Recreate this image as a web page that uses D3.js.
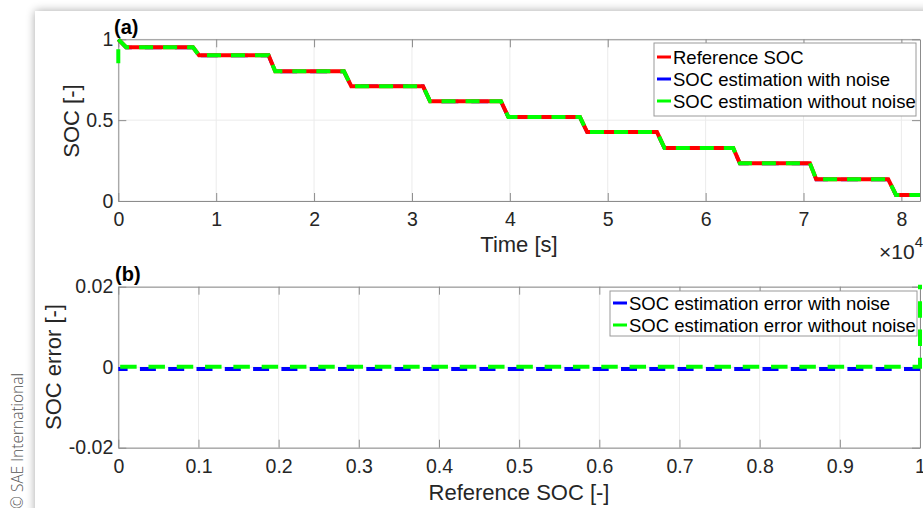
<!DOCTYPE html>
<html>
<head>
<meta charset="utf-8">
<script src="https://cdn.jsdelivr.net/npm/d3@7"></script>
<style>
  html, body { margin: 0; padding: 0; background: #ffffff; }
  svg { display: block; font-family: "Liberation Sans", Arial, Helvetica, sans-serif; }
</style>
</head>
<body>
<svg id="chart" width="923" height="508"></svg>
<script>
// ---------------- DATA ----------------
// Panel (a): time axis in seconds
const timeTicks = [0, 10000, 20000, 30000, 40000, 50000, 60000, 70000, 80000];
const timeTickLabels = ["0", "1", "2", "3", "4", "5", "6", "7", "8"];
const socTicks = [0, 0.5, 1];
const socTickLabels = ["0", "0.5", "1"];

const refTime = [0, 800, 7630, 8250, 15350, 16030, 23050, 23800, 31130, 31850, 39090, 39850,
                 47160, 47900, 55030, 55800, 62820, 63500, 70650, 71300, 78650, 79450, 81900];
const refSOC  = [1, 0.951, 0.951, 0.901, 0.901, 0.802, 0.802, 0.710, 0.710, 0.617, 0.617, 0.519,
                 0.519, 0.426, 0.426, 0.327, 0.327, 0.233, 0.233, 0.134, 0.134, 0.037, 0.037];

const noiseTime = [0, 800, 7630, 8250, 15350, 16030, 23050, 23800, 31130, 31850, 39090, 39850,
                   47160, 47900, 55030, 55800, 62820, 63500, 70650, 71300, 78650, 79450, 81900];
const noiseSOC  = [1, 0.950, 0.950, 0.900, 0.900, 0.801, 0.801, 0.709, 0.709, 0.616, 0.616, 0.518,
                   0.518, 0.425, 0.425, 0.326, 0.326, 0.232, 0.232, 0.133, 0.133, 0.036, 0.036];

const cleanTime = [0, 0, 800, 7630, 8250, 15350, 16030, 23050, 23800, 31130, 31850, 39090, 39850,
                   47160, 47900, 55030, 55800, 62820, 63500, 70650, 71300, 78650, 79450, 81900];
const cleanSOC  = [0.852, 1, 0.951, 0.951, 0.901, 0.901, 0.802, 0.802, 0.710, 0.710, 0.617, 0.617, 0.519,
                   0.519, 0.426, 0.426, 0.327, 0.327, 0.233, 0.233, 0.134, 0.134, 0.037, 0.037];

// Panel (b): error vs reference SOC
const refSocTicks = [0, 0.1, 0.2, 0.3, 0.4, 0.5, 0.6, 0.7, 0.8, 0.9, 1];
const refSocTickLabels = ["0", "0.1", "0.2", "0.3", "0.4", "0.5", "0.6", "0.7", "0.8", "0.9", "1"];
const errTicks = [-0.02, 0, 0.02];
const errTickLabels = ["-0.02", "0", "0.02"];

const errNoiseSOC = [1, 0];
const errNoise    = [-0.00045, -0.00045];
const errCleanSOC = [1, 1, 0];
const errClean    = [0.15, 0.0001, 0.0001];

const legendA = ["Reference SOC", "SOC estimation with noise", "SOC estimation without noise"];
const legendB = ["SOC estimation error with noise", "SOC estimation error without noise"];

// ---------------- DRAWING ----------------
const RED = "#ff0000", BLUE = "#0000ff", GREEN = "#00ff00";
const AXIS = "#8c8c8c", TEXT = "#262626", GRID = "#ebebeb";
const TICKFS = 19.5, LABELFS = 22, LEGFS = 18.5;

const svg = d3.select("#chart");
const defs = svg.append("defs");
const f = defs.append("filter").attr("id", "shadow").attr("x", -0.1).attr("y", -0.1).attr("width", 1.3).attr("height", 1.3);
f.append("feGaussianBlur").attr("in", "SourceAlpha").attr("stdDeviation", 5);
f.append("feComponentTransfer").append("feFuncA").attr("type", "linear").attr("slope", 0.35);
const fm = f.append("feMerge");
fm.append("feMergeNode");
fm.append("feMergeNode").attr("in", "SourceGraphic");

svg.append("rect").attr("x", 35).attr("y", 11).attr("width", 930).attr("height", 520)
  .attr("fill", "#fff").attr("filter", "url(#shadow)");

// copyright
svg.append("text")
  .attr("transform", "translate(23,509) rotate(-90)")
  .attr("font-size", 15.5).attr("fill", "#555").attr("font-weight", 300)
  .attr("font-family", "'Open Sans', 'Liberation Sans', sans-serif")
  .text("© SAE International");

function panel(opts) {
  const { x, y, xTicks, xLabels, yTicks, yLabels, id } = opts;
  const [x0, x1] = x.range();
  const [y0, y1] = y.range(); // y0 bottom, y1 top
  const g = svg.append("g");
  const clip = defs.append("clipPath").attr("id", id);
  clip.append("rect").attr("x", x0 - 3).attr("y", y1 - 2).attr("width", x1 - x0 + 6).attr("height", y0 - y1 + 4);

  // grid
  g.append("g").selectAll("line").data(xTicks).join("line")
    .attr("x1", d => x(d)).attr("x2", d => x(d)).attr("y1", y0).attr("y2", y1)
    .attr("stroke", GRID).attr("stroke-width", 1);
  g.append("g").selectAll("line").data(yTicks).join("line")
    .attr("x1", x0).attr("x2", x1).attr("y1", d => y(d)).attr("y2", d => y(d))
    .attr("stroke", GRID).attr("stroke-width", 1);

  const styleAxis = sel => {
    sel.select(".domain").attr("stroke", AXIS);
    sel.selectAll(".tick line").attr("stroke", AXIS);
    sel.selectAll("text").attr("fill", TEXT).attr("font-size", TICKFS).attr("font-family", "Liberation Sans, Arial, sans-serif");
  };
  const xl = d3.scaleOrdinal().domain(xTicks).range(xLabels);
  const yl = d3.scaleOrdinal().domain(yTicks).range(yLabels);

  g.append("g").attr("transform", `translate(0,${y0})`)
    .call(d3.axisBottom(x).tickValues(xTicks).tickSizeInner(-8).tickSizeOuter(0).tickPadding(11).tickFormat(d => xl(d)))
    .call(styleAxis);
  g.append("g").attr("transform", `translate(0,${y1})`)
    .call(d3.axisTop(x).tickValues(xTicks).tickSizeInner(-8).tickSizeOuter(0).tickFormat(""))
    .call(styleAxis);
  g.append("g").attr("transform", `translate(${x0},0)`)
    .call(d3.axisLeft(y).tickValues(yTicks).tickSizeInner(-8).tickSizeOuter(0).tickPadding(5).tickFormat(d => yl(d)))
    .call(styleAxis);
  g.append("g").attr("transform", `translate(${x1},0)`)
    .call(d3.axisRight(y).tickValues(yTicks).tickSizeInner(-8).tickSizeOuter(0).tickFormat(""))
    .call(styleAxis);
  g.selectAll(".domain").attr("fill", "none");
  return g;
}

function legend(items, colors, box, gap) {
  const g = svg.append("g");
  g.append("rect").attr("x", box.x).attr("y", box.y).attr("width", box.w).attr("height", box.h)
    .attr("fill", "#fff").attr("stroke", "#9a9a9a").attr("stroke-width", 1);
  items.forEach((t, i) => {
    const cy = box.y + box.first + i * gap;
    g.append("line").attr("x1", box.x + 3).attr("x2", box.x + 17).attr("y1", cy).attr("y2", cy)
      .attr("stroke", colors[i]).attr("stroke-width", 3);
    g.append("text").attr("x", box.x + 19).attr("y", cy).attr("dy", "0.36em")
      .attr("font-size", LEGFS).attr("fill", "#000").text(t);
  });
}

// ---- Panel (a)
const xA = d3.scaleLinear().domain([0, 81900]).range([118.3, 920]);
const yA = d3.scaleLinear().domain([0, 1]).range([201, 39.3]);
panel({ x: xA, y: yA, xTicks: timeTicks, xLabels: timeTickLabels, yTicks: socTicks, yLabels: socTickLabels, id: "clipA" });

const lineA = d3.line().x(d => xA(d[0])).y(d => yA(d[1]));
const plotA = svg.append("g").attr("clip-path", "url(#clipA)");
plotA.append("path").datum(d3.zip(noiseTime, noiseSOC)).attr("d", lineA)
  .attr("fill", "none").attr("stroke", BLUE).attr("stroke-width", 3.5).attr("stroke-dasharray", "17,13");
plotA.append("path").datum(d3.zip(refTime, refSOC)).attr("d", lineA)
  .attr("fill", "none").attr("stroke", RED).attr("stroke-width", 4);
plotA.append("path").datum(d3.zip(cleanTime, cleanSOC)).attr("d", lineA)
  .attr("fill", "none").attr("stroke", GREEN).attr("stroke-width", 4).attr("stroke-dasharray", "14,10");

svg.append("text").attr("x", 114).attr("y", 34).attr("font-size", 20).attr("font-weight", "bold").attr("fill", "#000").text("(a)");
svg.append("text").attr("transform", `translate(79,121) rotate(-90)`).attr("text-anchor", "middle")
  .attr("font-size", LABELFS).attr("fill", TEXT).text("SOC [-]");
svg.append("text").attr("x", 519).attr("y", 252).attr("text-anchor", "middle")
  .attr("font-size", LABELFS).attr("fill", TEXT).text("Time [s]");
const mult = svg.append("text").attr("x", 923).attr("y", 259).attr("text-anchor", "end")
  .attr("font-size", 21).attr("fill", TEXT);
mult.append("tspan").text("×10");
mult.append("tspan").attr("font-size", 15).attr("dy", -12).text("4");

legend(legendA, [RED, BLUE, GREEN], { x: 654, y: 43, w: 262, h: 73, first: 14 }, 22);

// ---- Panel (b)
const xB = d3.scaleLinear().domain([0, 1]).range([118.3, 920]);
const yB = d3.scaleLinear().domain([-0.02, 0.02]).range([447.7, 286.7]);
panel({ x: xB, y: yB, xTicks: refSocTicks, xLabels: refSocTickLabels, yTicks: errTicks, yLabels: errTickLabels, id: "clipB" });

const lineB = d3.line().x(d => xB(d[0])).y(d => yB(d[1]));
const plotB = svg.append("g").attr("clip-path", "url(#clipB)");
plotB.append("path").datum(d3.zip(errNoiseSOC, errNoise)).attr("d", lineB)
  .attr("fill", "none").attr("stroke", BLUE).attr("stroke-width", 4).attr("stroke-dasharray", "16,12.3");
plotB.append("path").datum(d3.zip(errCleanSOC, errClean)).attr("d", lineB)
  .attr("fill", "none").attr("stroke", GREEN).attr("stroke-width", 4).attr("stroke-dasharray", "16.5,11.8");

svg.append("text").attr("x", 115).attr("y", 281).attr("font-size", 20).attr("font-weight", "bold").attr("fill", "#000").text("(b)");
svg.append("text").attr("transform", `translate(61,367) rotate(-90)`).attr("text-anchor", "middle")
  .attr("font-size", LABELFS).attr("fill", TEXT).text("SOC error [-]");
svg.append("text").attr("x", 519).attr("y", 500).attr("text-anchor", "middle")
  .attr("font-size", LABELFS).attr("fill", TEXT).text("Reference SOC [-]");

legend(legendB, [BLUE, GREEN], { x: 610, y: 291, w: 307, h: 45, first: 12 }, 22);
</script>
</body>
</html>
